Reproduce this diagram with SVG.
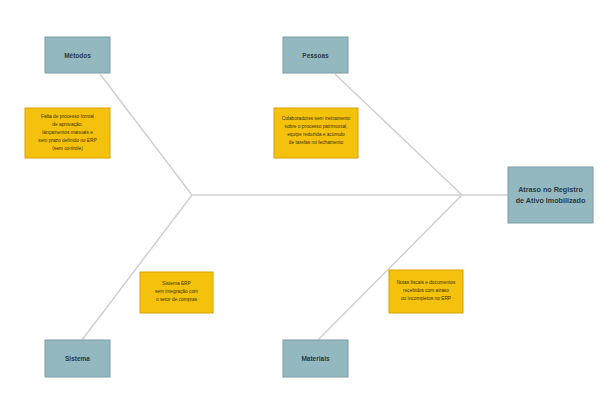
<svg xmlns="http://www.w3.org/2000/svg" width="611" height="418" viewBox="0 0 611 418">
<style>
.cat{fill:#94b8c0;stroke:#7d9ea6;stroke-width:1}
.note{fill:#f4c20d;stroke:#d9a000;stroke-width:1}
.bone{stroke:#d0d0d0;stroke-width:1.5;fill:none}
.t{font-family:"Liberation Sans",Arial,sans-serif;fill:#2a3a44;text-anchor:middle}
.ct{font-size:6.5px;font-weight:bold}
.nt{font-size:4.8px;fill:#3d3000}
.et{font-size:7.2px;font-weight:bold}
</style>
<rect width="611" height="418" fill="#ffffff"/>
<g id="connectors">
<line class="bone" x1="192" y1="195" x2="508" y2="195"/>
<line class="bone" x1="100" y1="74" x2="192" y2="195"/>
<line class="bone" x1="192" y1="195" x2="82" y2="340"/>
<line class="bone" x1="335" y1="74" x2="462" y2="195"/>
<line class="bone" x1="462" y1="195" x2="318" y2="340"/>
</g>
<g id="effect">
<rect class="cat" x="508" y="167" width="85" height="56"/>
<text class="t et" x="550.5" y="192">Atraso no Registro</text>
<text class="t et" x="550.5" y="203">de Ativo Imobilizado</text>
</g>
<g id="cat-metodos">
<rect class="cat" x="45" y="37" width="65" height="36"/>
<text class="t ct" x="77.5" y="57.5">Métodos</text>
</g>
<g id="cat-pessoas">
<rect class="cat" x="283" y="37" width="65" height="36"/>
<text class="t ct" x="315.5" y="57.5">Pessoas</text>
</g>
<g id="cat-sistema">
<rect class="cat" x="45" y="340" width="65" height="37"/>
<text class="t ct" x="77.5" y="360.5">Sistema</text>
</g>
<g id="cat-materiais">
<rect class="cat" x="283" y="340" width="65" height="37"/>
<text class="t ct" x="315.5" y="360.5">Materiais</text>
</g>
<g id="note-metodos">
<rect class="note" x="25" y="108" width="85" height="50"/>
<text class="t nt" x="67.5" y="118">Falta de processo formal</text>
<text class="t nt" x="67.5" y="126">de aprovação,</text>
<text class="t nt" x="67.5" y="134">lançamentos manuais e</text>
<text class="t nt" x="67.5" y="142">sem prazo definido no ERP</text>
<text class="t nt" x="67.5" y="150">(sem controle)</text>
</g>
<g id="note-pessoas">
<rect class="note" x="274" y="108" width="84" height="50"/>
<text class="t nt" x="316" y="120">Colaboradores sem treinamento</text>
<text class="t nt" x="316" y="128">sobre o processo patrimonial,</text>
<text class="t nt" x="316" y="136">equipe reduzida e acúmulo</text>
<text class="t nt" x="316" y="144">de tarefas no fechamento</text>
</g>
<g id="note-sistema">
<rect class="note" x="140" y="272" width="73" height="41"/>
<text class="t nt" x="176.5" y="285">Sistema ERP</text>
<text class="t nt" x="176.5" y="293">sem integração com</text>
<text class="t nt" x="176.5" y="301">o setor de compras</text>
</g>
<g id="note-materiais">
<rect class="note" x="389" y="270" width="74" height="43"/>
<text class="t nt" x="426" y="284">Notas fiscais e documentos</text>
<text class="t nt" x="426" y="292">recebidos com atraso</text>
<text class="t nt" x="426" y="300">ou incompletos no ERP</text>
</g>
</svg>
